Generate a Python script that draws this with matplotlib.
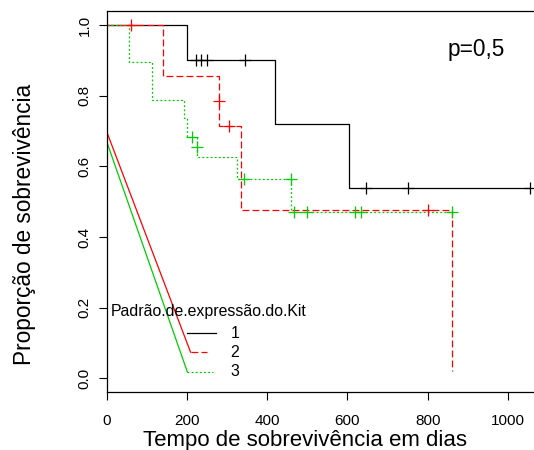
import matplotlib
matplotlib.use('Agg')
import matplotlib.pyplot as plt

plt.rcParams['font.family'] = ['Liberation Sans', 'DejaVu Sans']

# Kaplan-Meier steps (time in days, survival proportion)
black_t = [0, 200, 420, 605, 1055]
black_s = [1.0, 0.9, 0.72, 0.54, 0.54]
black_cens_t = [222, 236, 250, 344, 647, 750, 1055]
black_cens_s = [0.9, 0.9, 0.9, 0.9, 0.54, 0.54, 0.54]

red_t = [0, 140, 281, 334, 861]
red_s = [1.0, 0.857, 0.714, 0.476, 0.02]
red_cens_t = [61, 281, 304, 800]
red_cens_s = [1.0, 0.785, 0.714, 0.476]

green_t = [0, 56, 112, 192, 199, 224, 325, 459, 860]
green_s = [1.0, 0.894, 0.788, 0.736, 0.684, 0.627, 0.564, 0.470, 0.470]
green_cens_t = [213, 224, 343, 459, 467, 498, 619, 634, 860]
green_cens_s = [0.684, 0.655, 0.564, 0.564, 0.470, 0.470, 0.470, 0.470, 0.470]

# stray lines running from the y axis into the legend keys
red_diag_t = [0, 209]
red_diag_s = [0.698, 0.074]
green_diag_t = [0, 201]
green_diag_s = [0.670, 0.018]

groups = ['1', '2', '3']
x_ticks = [0, 200, 400, 600, 800, 1000]
y_ticks = [0.0, 0.2, 0.4, 0.6, 0.8, 1.0]

RED = '#FF0000'
GREEN = '#00CD00'
LW = 0.9
dash = (0, (5.5, 2.5))
dot = (0, (1.5, 1.8))

fig = plt.figure(figsize=(5.34, 4.5), dpi=100)
ax = fig.add_axes([0.1998, 0.1289, 0.8114, 0.8467])

ax.step(black_t, black_s, where='post', color='black', lw=LW)
ax.step(red_t, red_s, where='post', color=RED, lw=LW, linestyle=dash)
ax.step(green_t, green_s, where='post', color=GREEN, lw=LW, linestyle=dot)

mk = dict(marker='+', linestyle='none', markersize=8.5, markeredgewidth=0.9)
ax.plot(black_cens_t, black_cens_s, color='black', **mk)
ax.plot(red_cens_t, red_cens_s, color=RED, **mk)
ax.plot(green_cens_t, green_cens_s, color=GREEN, **mk)

ax.plot(red_diag_t, red_diag_s, color=RED, lw=LW)
ax.plot(green_diag_t, green_diag_s, color=GREEN, lw=LW)

# legend drawn by hand, like the R one
ax.text(11, 0.177, 'Padrão.de.expressão.do.Kit', fontsize=11.4,
        ha='left', va='baseline')
key_styles = [('black', '-', 201, 272, 0.127),
              (RED, dash, 209, 250, 0.074),
              (GREEN, dot, 201, 265, 0.018)]
for grp, (c, ls, x0, x1, yy) in zip(groups, key_styles):
    ax.plot([x0, x1], [yy, yy], color=c, linestyle=ls, lw=LW)
    ax.text(320, yy, grp, fontsize=11.4, ha='center', va='center')

ax.set_xlim(0, 1079.7)
ax.set_ylim(-0.0388, 1.0397)
ax.set_xticks(x_ticks)
ax.set_xticklabels([str(v) for v in x_ticks])
ax.set_yticks(y_ticks)
ax.set_yticklabels([f'{v:.1f}' for v in y_ticks], rotation=90, va='center')
ax.tick_params(axis='both', direction='out', length=5.5, width=0.8,
               labelsize=11)
ax.tick_params(axis='x', pad=10.3)
ax.tick_params(axis='y', pad=5.4)
for side in ['left', 'bottom', 'top']:
    ax.spines[side].set_linewidth(0.9)
ax.spines['right'].set_visible(False)

fig.text(0.571, 1 - 446 / 450, 'Tempo de sobrevivência em dias',
         fontsize=16, ha='center', va='baseline')
fig.text(0.0468, 0.502, 'Proporção de sobrevivência', fontsize=16.3,
         rotation=90, ha='center', va='center')
fig.text(447.7 / 534, 1 - 56 / 450, 'p=0,5', fontsize=16.3,
         ha='left', va='baseline')

fig.savefig('out.png', dpi=100)
